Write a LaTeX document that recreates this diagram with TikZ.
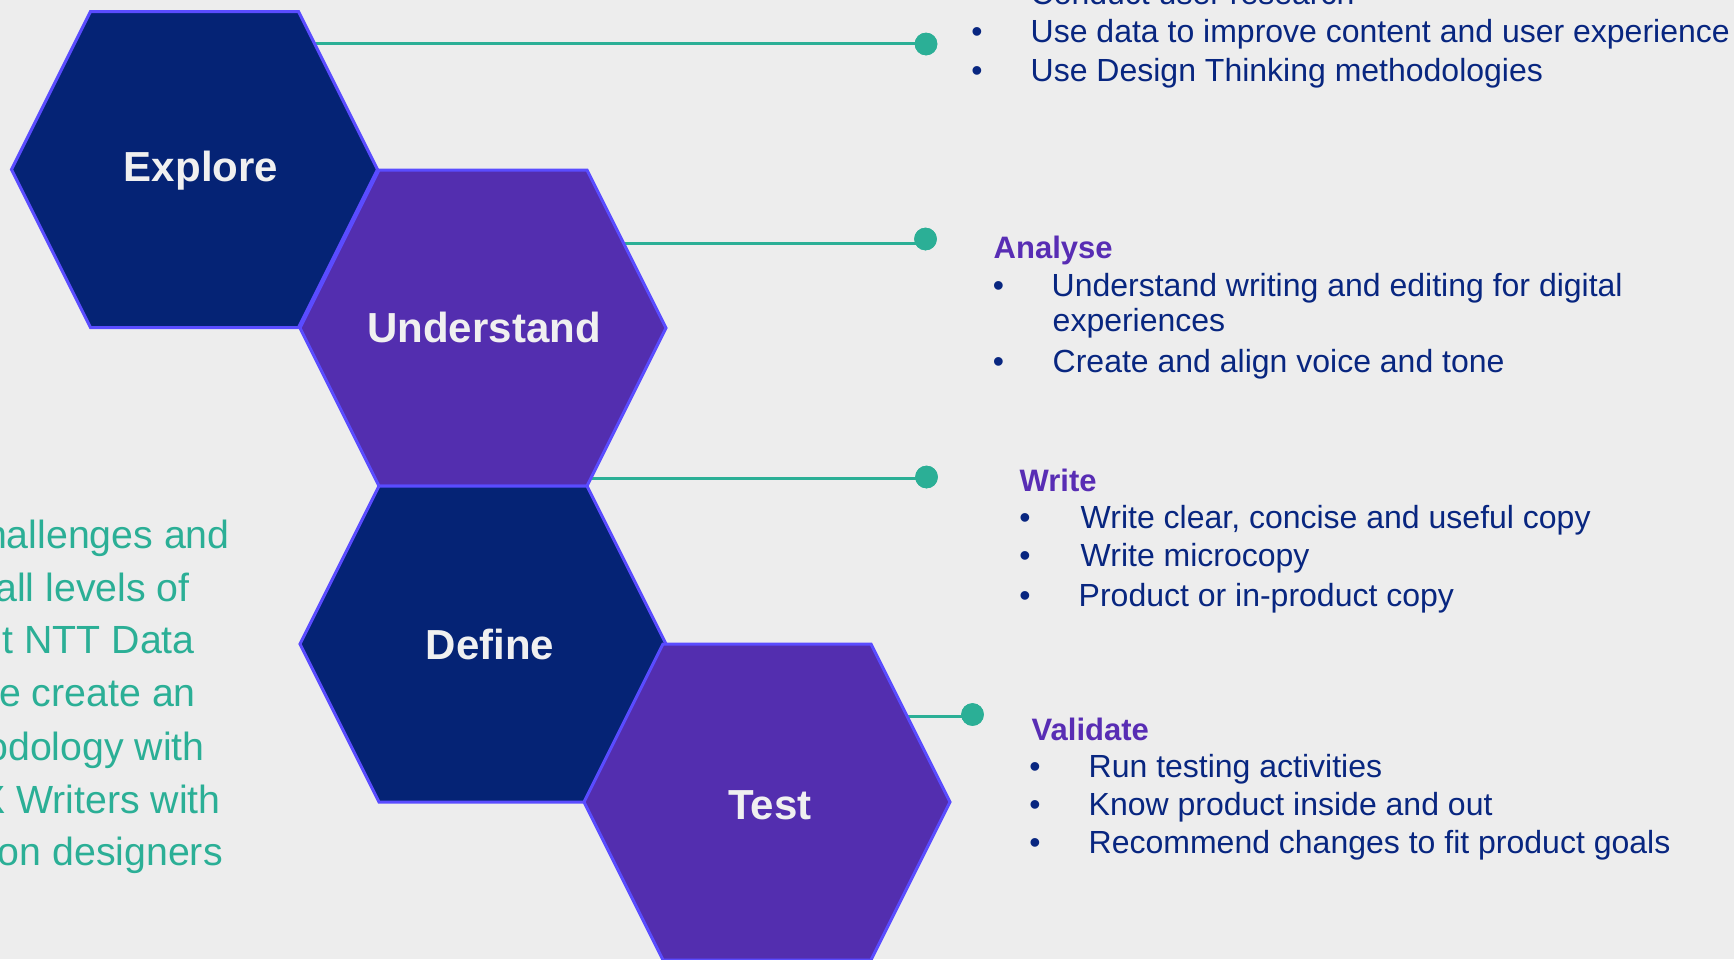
\documentclass[tikz,border=0pt]{standalone}
\usepackage{fontspec}
\setmainfont{Liberation Sans}
\definecolor{bgc}{RGB}{237,237,237}
\definecolor{hexnavy}{RGB}{5,35,117}
\definecolor{hexpurple}{RGB}{83,46,175}
\definecolor{hexborder}{RGB}{90,76,255}
\definecolor{textnavy}{RGB}{8,38,128}
\definecolor{headpurple}{RGB}{88,45,180}
\definecolor{tealc}{RGB}{43,175,150}
\definecolor{labelc}{RGB}{240,240,240}
\newcommand\hexagonat[1]{(#1) ++(-183,0) -- ++(79,-158) -- ++(208,0) -- ++(79,158) -- ++(-79,158) -- ++(-208,0) -- cycle}
\begin{document}
\begin{tikzpicture}[x=1pt,y=-1pt,
  hexn/.style={fill=hexnavy,draw=hexborder,line width=3pt,line join=miter},
  hexp/.style={fill=hexpurple,draw=hexborder,line width=3pt,line join=miter},
  hexlabel/.style={inner sep=0,anchor=base,text=labelc,font=\fontsize{42}{50}\selectfont\bfseries},
  conn/.style={draw=tealc,line width=3pt},
  dotnode/.style={circle,fill=tealc,inner sep=0,minimum size=22.6pt},
  bodytext/.style={inner sep=0,anchor=base west,text=textnavy,font=\fontsize{32}{38}\selectfont},
  bulletmark/.style={inner sep=0,anchor=base,text=textnavy,font=\fontsize{32}{38}\selectfont},
  headtext/.style={inner sep=0,anchor=base west,text=headpurple,font=\fontsize{31}{37}\selectfont\bfseries},
  sidetext/.style={inner sep=0,anchor=base east,text=tealc,font=\fontsize{39.3}{47}\selectfont}]
\useasboundingbox (0,0) rectangle (1734,959);
\fill[bgc] (0,0) rectangle (1734,959);
\clip (0,0) rectangle (1734,959);

% hexagon centres
\coordinate (cE) at (194.5,169.5);
\coordinate (cU) at (483,328);
\coordinate (cD) at (483,644);
\coordinate (cT) at (767,802);

% connector start points on hexagon edges
\coordinate (s1) at (314.5,43.5);
\coordinate (s2) at (623.5,243.5);
\coordinate (s3) at (591,478);
\coordinate (s4) at (907,716);

% dots
\node[dotnode] (d1) at (926,44) {};
\node[dotnode] (d2) at (925.5,239) {};
\node[dotnode] (d3) at (926.5,477) {};
\node[dotnode] (d4) at (972.5,714.5) {};

% connectors
\draw[conn] (s1) -- (s1 -| d1.center);
\draw[conn] (s2) -- (s2 -| d2.center);
\draw[conn] (s3) -- (s3 -| d3.center);
\draw[conn] (s4) -- (s4 -| d4.center);
\node[dotnode] at (d1) {};
\node[dotnode] at (d2) {};
\node[dotnode] at (d3) {};
\node[dotnode] at (d4) {};

% hexagons
\path[hexn] \hexagonat{cE};
\path[hexp] \hexagonat{cU};
\path[hexn] \hexagonat{cD};
\path[hexp] \hexagonat{cT};

\node[hexlabel] (explore) at (201,181.7) {Explore};
\node[hexlabel] (understand) at (484,342.3) {Understand};
\node[hexlabel] (define) at (490,659) {Define};
\node[hexlabel] (test) at (770,819) {Test};

% block 1
\node[bodytext] (t1a) at (1030.5,4.5) {Conduct user research};
\node[bulletmark] (b1b) at (977,42.7) {•};
\node[bodytext] (t1b) at (1030.5,42.7) {Use data to improve content and user experience};
\node[bulletmark] (b1c) at (977,81.7) {•};
\node[bodytext] (t1c) at (1030.5,81.7) {Use Design Thinking methodologies};

% block 2
\node[headtext] (h2) at (993.5,258.3) {Analyse};
\node[bulletmark] (b2a) at (998.5,296.7) {•};
\node[bodytext] (t2a) at (1051.5,296.7) {Understand writing and editing for digital};
\node[bodytext] (t2b) at (1052.5,331.7) {experiences};
\node[bulletmark] (b2c) at (998.5,372.7) {•};
\node[bodytext] (t2c) at (1052.5,372.7) {Create and align voice and tone};

% block 3
\node[headtext] (h3) at (1019.5,491.7) {Write};
\node[bulletmark] (b3a) at (1025,528.3) {•};
\node[bodytext] (t3a) at (1080.5,528.3) {Write clear, concise and useful copy};
\node[bulletmark] (b3b) at (1025,566.7) {•};
\node[bodytext] (t3b) at (1080.5,566.7) {Write microcopy};
\node[bulletmark] (b3c) at (1025,606.7) {•};
\node[bodytext] (t3c) at (1078.5,606.7) {Product or in-product copy};

% block 4
\node[headtext] (h4) at (1031.5,740) {Validate};
\node[bulletmark] (b4a) at (1035,777.7) {•};
\node[bodytext] (t4a) at (1088.5,777.7) {Run testing activities};
\node[bulletmark] (b4b) at (1035,815) {•};
\node[bodytext] (t4b) at (1088.5,815) {Know product inside and out};
\node[bulletmark] (b4c) at (1035,853.3) {•};
\node[bodytext] (t4c) at (1088.5,853.3) {Recommend changes to fit product goals};

% left text (cut by the page edge)
\node[sidetext] (l1) at (230,548.5) {hallenges and};
\node[sidetext] (l2) at (190,601.7) {all levels of};
\node[sidetext] (l3) at (195,653.3) {t NTT Data};
\node[sidetext] (l4) at (196,706.7) {e create an};
\node[sidetext] (l5) at (205,760) {odology with};
\node[sidetext] (l6) at (221,813.3) {X Writers with};
\node[sidetext] (l7) at (223,865.5) {on designers};
\end{tikzpicture}
\end{document}
